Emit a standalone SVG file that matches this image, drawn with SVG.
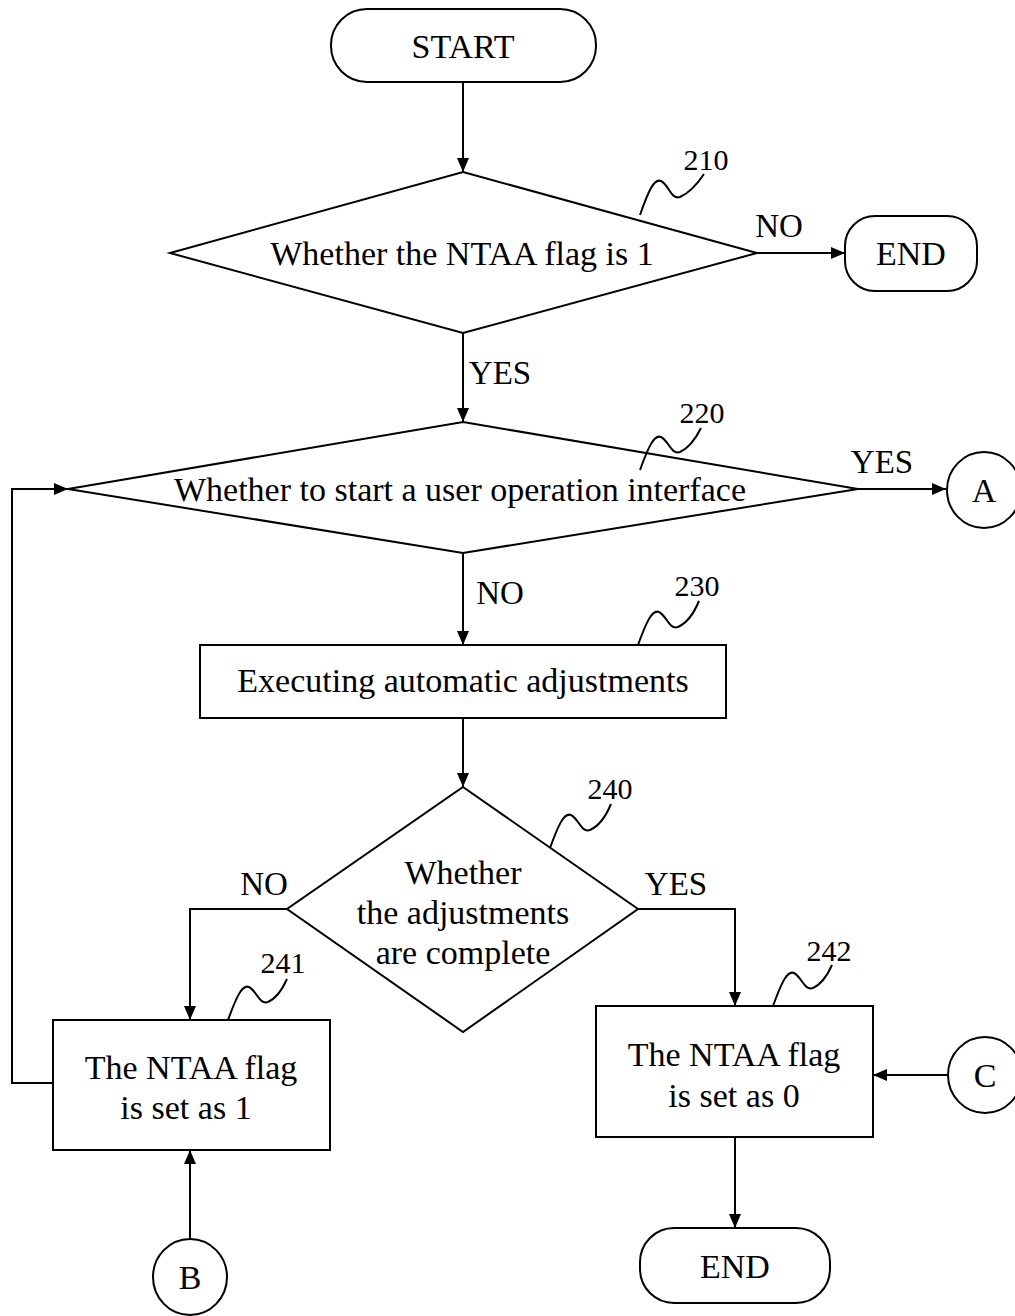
<svg xmlns="http://www.w3.org/2000/svg" width="1015" height="1316" viewBox="0 0 1015 1316">
<style>
.s{fill:none;stroke:#000;stroke-width:2}
.n{fill:#fff;stroke:#000;stroke-width:2}
.t{font-family:"Liberation Serif","Times New Roman",serif;font-size:34px;fill:#000;text-anchor:middle}
.l{font-family:"Liberation Serif","Times New Roman",serif;font-size:33px;fill:#000;text-anchor:middle}
.r{font-family:"Liberation Serif","Times New Roman",serif;font-size:30px;fill:#000;text-anchor:middle}
</style>
<defs>
<marker id="ar" viewBox="0 0 14 12" refX="14" refY="6" markerWidth="14" markerHeight="12" markerUnits="userSpaceOnUse" orient="auto">
<path d="M0,0 L14,6 L0,12 Z" fill="#000"/>
</marker>
</defs>
<rect width="1015" height="1316" fill="#fff"/>
<g id="connectors">
<path class="s" d="M463,82 V172" marker-end="url(#ar)"/>
<path class="s" d="M757,253 H845" marker-end="url(#ar)"/>
<path class="s" d="M463,333 V422" marker-end="url(#ar)"/>
<path class="s" d="M858,489 H946" marker-end="url(#ar)"/>
<path class="s" d="M463,553 V645" marker-end="url(#ar)"/>
<path class="s" d="M463,718 V787" marker-end="url(#ar)"/>
<path class="s" d="M287,909 H190 V1020" marker-end="url(#ar)"/>
<path class="s" d="M638,909 H735 V1006" marker-end="url(#ar)"/>
<path class="s" d="M53,1083 H12 V489 H68" marker-end="url(#ar)"/>
<path class="s" d="M190,1239 V1150" marker-end="url(#ar)"/>
<path class="s" d="M948,1075 H873" marker-end="url(#ar)"/>
<path class="s" d="M735,1137 V1228" marker-end="url(#ar)"/>
<text class="l" x="779" y="237">NO</text>
<text class="l" x="500" y="384">YES</text>
<text class="l" x="882" y="473">YES</text>
<text class="l" x="500" y="604">NO</text>
<text class="l" x="264" y="895">NO</text>
<text class="l" x="676" y="895">YES</text>
</g>
<g id="start">
<rect class="n" x="331" y="9" width="265" height="73" rx="36" ry="36"/>
<text class="t" x="463" y="58">START</text>
</g>
<g id="d210">
<polygon class="n" points="463,172 757,253 463,333 170,253"/>
<text class="t" x="462" y="265">Whether the NTAA flag is 1</text>
<path class="s" d="M640,215 C648,192 654,178 661,181 C669,185 671,200 680,197 C689,193 698,183 704,174"/>
<text class="r" x="706" y="170">210</text>
</g>
<g id="end1">
<rect class="n" x="845" y="216" width="132" height="75" rx="30" ry="30"/>
<text class="t" x="911" y="265">END</text>
</g>
<g id="d220">
<polygon class="n" points="463,422 858,489 463,553 68,489"/>
<text class="t" x="460" y="501">Whether to start a user operation interface</text>
<path class="s" d="M640,470 C648,448 654,434 661,437 C669,441 671,455 680,452 C689,448 696,438 701,428"/>
<text class="r" x="702" y="423">220</text>
</g>
<g id="a">
<ellipse class="n" cx="984" cy="490" rx="37" ry="38"/>
<text class="t" x="984" y="502">A</text>
</g>
<g id="p230">
<rect class="n" x="200" y="645" width="526" height="73"/>
<text class="t" x="463" y="692">Executing automatic adjustments</text>
<path class="s" d="M638,645 C646,623 652,609 659,612 C667,616 669,630 678,627 C687,623 694,613 699,601"/>
<text class="r" x="697" y="596">230</text>
</g>
<g id="d240">
<polygon class="n" points="463,787 638,909 463,1032 287,909"/>
<text class="t" x="463" y="884">Whether</text>
<text class="t" x="463" y="924">the adjustments</text>
<text class="t" x="463" y="964">are complete</text>
<path class="s" d="M550,848 C558,826 564,812 571,815 C579,819 581,833 590,830 C599,826 606,816 611,804"/>
<text class="r" x="610" y="799">240</text>
</g>
<g id="p241">
<rect class="n" x="53" y="1020" width="277" height="130"/>
<text class="t" x="191" y="1079">The NTAA flag</text>
<text class="t" x="186" y="1119">is set as 1</text>
<path class="s" d="M228,1020 C236,998 242,984 249,987 C257,991 259,1005 268,1002 C277,998 283,988 287,979"/>
<text class="r" x="283" y="973">241</text>
</g>
<g id="b">
<ellipse class="n" cx="190" cy="1277" rx="37" ry="38"/>
<text class="t" x="190" y="1289">B</text>
</g>
<g id="p242">
<rect class="n" x="596" y="1006" width="277" height="131"/>
<text class="t" x="734" y="1066">The NTAA flag</text>
<text class="t" x="734" y="1107">is set as 0</text>
<path class="s" d="M773,1006 C781,984 787,970 794,973 C802,977 804,991 813,988 C822,984 828,974 832,965"/>
<text class="r" x="829" y="961">242</text>
</g>
<g id="c">
<ellipse class="n" cx="985" cy="1075" rx="37" ry="38"/>
<text class="t" x="985" y="1087">C</text>
</g>
<g id="end2">
<rect class="n" x="640" y="1228" width="190" height="75" rx="34" ry="34"/>
<text class="t" x="735" y="1278">END</text>
</g>
</svg>
